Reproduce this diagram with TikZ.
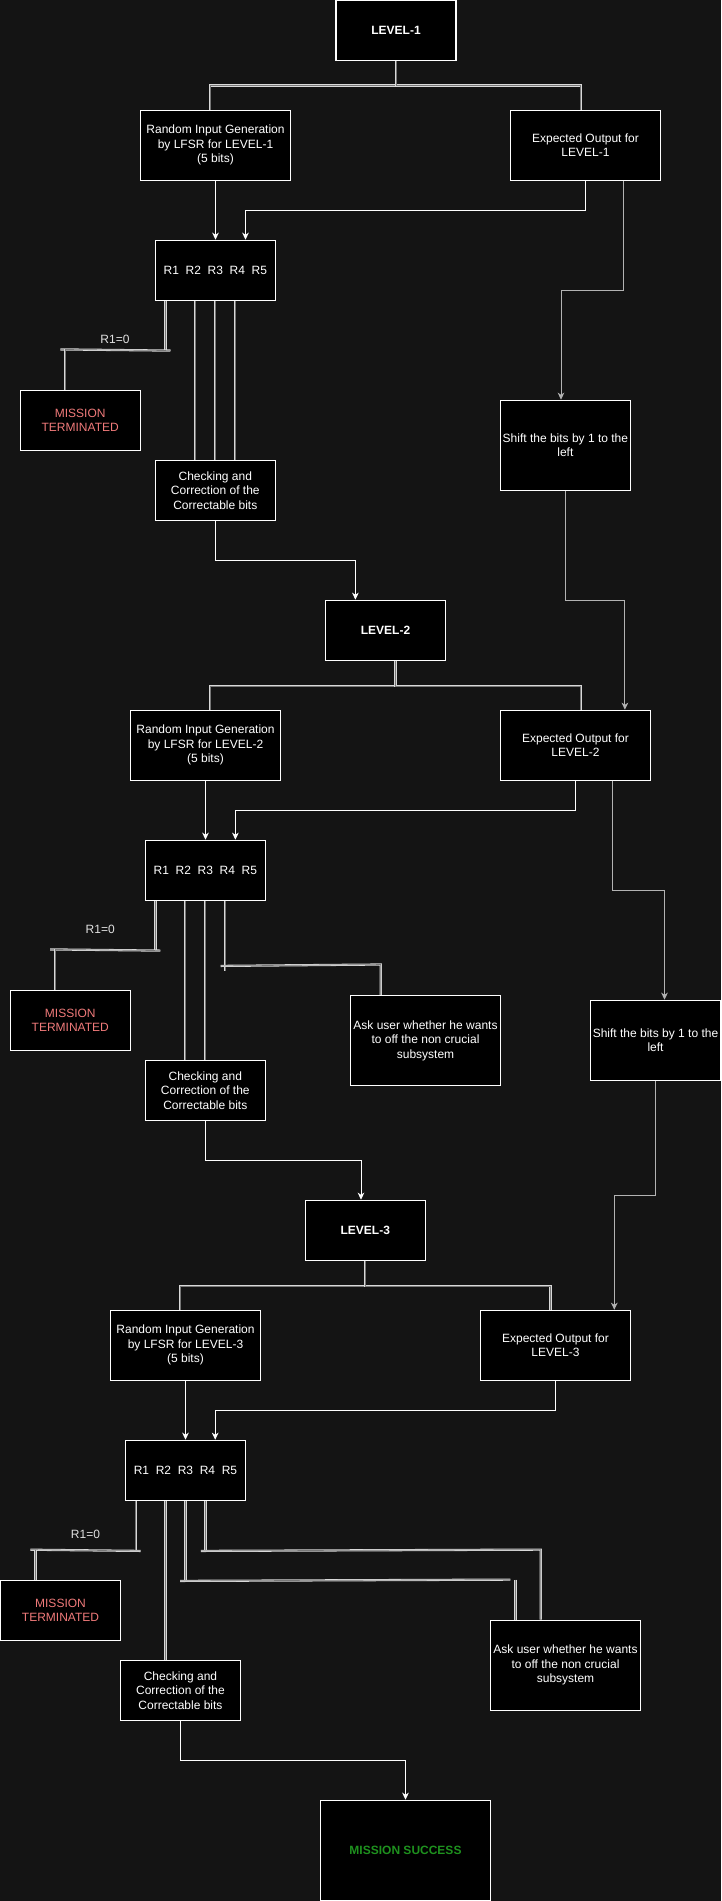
\documentclass[tikz,border=0pt]{standalone}
\usepackage{fontspec}
\setmainfont{Liberation Sans}
\usetikzlibrary{arrows.meta,calc}
\definecolor{bg}{HTML}{141414}
\definecolor{termred}{HTML}{F07A7A}
\definecolor{okgreen}{HTML}{1E911E}
\definecolor{linkout}{HTML}{D9D9D9}
\definecolor{linkin}{HTML}{777777}
\definecolor{feed}{HTML}{B3B3B3}
\newcommand\boxfont{\fontsize{9}{10.9}\selectfont}
\begin{document}
\begin{tikzpicture}[x=0.75pt,y=-0.75pt,
  every node/.style={font=\boxfont},
  box/.style={draw=white, fill=black, line width=0.9pt, text=white, align=center, inner sep=1pt},
  wh/.style 2 args={minimum width=#1, minimum height=#2},
  regbox/.style={box, wh={90pt}{45pt}},
  genbox/.style={box, wh={112.5pt}{52.5pt}},
  askbox/.style={box, wh={112.5pt}{67.5pt}},
  levelbox/.style={regbox, font=\boxfont\bfseries},
  termbox/.style={regbox, text=termred},
  lbl/.style={text=white!88!black, inner sep=0pt},
  link/.style={draw=linkout, line width=0.6pt, double=linkin, double distance=0.45pt, line join=miter},
  arr/.style={draw=white, line width=0.75pt, -{Stealth[length=5.3pt,width=5pt,inset=1.6pt]}},
  garr/.style={draw=feed, line width=0.75pt, -{Stealth[length=5.3pt,width=5pt,inset=1.6pt]}}
]
% canvas
\fill[bg] (0,0) rectangle (721,1901);
\useasboundingbox (0,0) rectangle (721,1901);

% ---------- level 1 ----------
\node[levelbox] (L1) at (396,30.5) {LEVEL-1};
\node[genbox] (RI1) at (215.5,145.3) {Random Input Generation\\by LFSR for LEVEL-1\\(5 bits)};
\node[genbox] (E1) at (585.5,145.3) {Expected Output for\\LEVEL-1};
\node[regbox] (RB1) at (215.3,270.3) {R1\ \ R2\ \ R3\ \ R4\ \ R5};
\node[termbox] (MT1) at (80.2,420.3) {MISSION\\TERMINATED};
\node[regbox] (CH1) at (215.3,490.3) {Checking and\\Correction of the\\Correctable bits};
\node[box, wh={97.5pt}{67.5pt}] (SH1) at (565.4,445.3) {Shift the bits by 1 to the\\left};
\node[lbl] (C1) at (115,339.7) {R1=0};

% ---------- level 2 ----------
\node[levelbox] (L2) at (385.5,630.3) {LEVEL-2};
\node[genbox] (RI2) at (205.5,745.3) {Random Input Generation\\by LFSR for LEVEL-2\\(5 bits)};
\node[genbox] (E2) at (575.5,745.3) {Expected Output for\\LEVEL-2};
\node[regbox] (RB2) at (205.3,870.3) {R1\ \ R2\ \ R3\ \ R4\ \ R5};
\node[termbox] (MT2) at (70.3,1020.3) {MISSION\\TERMINATED};
\node[regbox] (CH2) at (205.3,1090.3) {Checking and\\Correction of the\\Correctable bits};
\node[askbox] (ASK2) at (425.5,1040.5) {Ask user whether he wants\\to off the non crucial\\subsystem};
\node[box, wh={97.5pt}{60pt}] (SH2) at (655.5,1040.3) {Shift the bits by 1 to the\\left};
\node[lbl] (C2) at (100.2,929.7) {R1=0};

% ---------- level 3 ----------
\node[levelbox] (L3) at (365.3,1230.3) {LEVEL-3};
\node[genbox] (RI3) at (185.5,1345.3) {Random Input Generation\\by LFSR for LEVEL-3\\(5 bits)};
\node[genbox] (E3) at (555.5,1345.3) {Expected Output for\\LEVEL-3};
\node[regbox] (RB3) at (185.5,1470.3) {R1\ \ R2\ \ R3\ \ R4\ \ R5};
\node[termbox] (MT3) at (60.5,1610.3) {MISSION\\TERMINATED};
\node[regbox] (CH3) at (180.5,1690.3) {Checking and\\Correction of the\\Correctable bits};
\node[askbox] (ASK3) at (565.5,1665.2) {Ask user whether he wants\\to off the non crucial\\subsystem};
\node[box, wh={127.5pt}{75pt}, text=okgreen, font=\boxfont\bfseries] (SUC) at (405.5,1850.3) {MISSION SUCCESS};
\node[lbl] (C3) at (85.5,1534.3) {R1=0};

% ---------- connectors, level 1 ----------
\draw[link] (L1.south) -- ++(0,24.5) -| ($(RI1.north)+(-5.5,0)$);
\draw[link] (L1.south) -- ++(0,24.5) -| ($(E1.north)+(-4.8,0)$);
\draw[arr] (RI1.south) -- (RI1.south |- RB1.north);
\draw[arr] (E1.south) -- ++(0,30) -| ($(RB1.north)+(30.2,0)$);
\draw[garr] ($(E1.south)+(37.5,0)$) -- ++(0,110) -| ($(SH1.north)+(-4.4,0)$);
\coordinate (t1a) at ($(RB1.south)+(-49.8,49.7)$);
\coordinate (t1b) at ($(MT1.north)+(-14.9,-40.3)$);
\draw[link] ($(RB1.south)+(-49.8,0)$) -- (t1a);
\draw[link] ($(t1a)+(5,0)$) -- ($(t1b)+(-5,0)$);
\draw[link] (t1b) -- ($(MT1.north)+(-14.9,0)$);
\foreach \d in {-20,0,20}
  \draw[link] ($(RB1.south)+(\d,0)$) -- ($(CH1.north)+(\d,0)$);
\draw[arr] (CH1.south) -- ++(0,40) -| ($(L2.north)+(-30.1,0)$);
\draw[garr] (SH1.south) -- ++(0,110) -| ($(E2.north)+(49.4,0)$);

% ---------- connectors, level 2 ----------
\draw[link] ($(L2.south)+(9.9,0)$) -- ++(0,25) -| ($(RI2.north)+(4.6,0)$);
\draw[link] ($(L2.south)+(9.9,0)$) -- ++(0,25) -| ($(E2.north)+(5.2,0)$);
\draw[arr] (RI2.south) -- (RI2.south |- RB2.north);
\draw[arr] (E2.south) -- ++(0,30) -| ($(RB2.north)+(30.1,0)$);
\draw[garr] ($(E2.south)+(37.4,0)$) -- ++(0,110) -| ($(SH2.north)+(9,0)$);
\coordinate (t2a) at ($(RB2.south)+(-49.9,49.7)$);
\coordinate (t2b) at ($(MT2.north)+(-15.1,-40.3)$);
\draw[link] ($(RB2.south)+(-49.9,0)$) -- (t2a);
\draw[link] ($(t2a)+(5,0)$) -- ($(t2b)+(-5,0)$);
\draw[link] (t2b) -- ($(MT2.north)+(-15.1,0)$);
\foreach \d in {-20,0}
  \draw[link] ($(RB2.south)+(\d,0)$) -- ($(CH2.north)+(\d,0)$);
\coordinate (a2) at ($(ASK2.north)+(-44.8,-30.4)$);
\draw[link] ($(RB2.south)+(20,0)$) -- ($(RB2.south)+(20,69.7)$);
\draw[link] ($(RB2.south)+(15.4,65)$) -- (a2) -- ($(ASK2.north)+(-44.8,0)$);
\draw[arr] (CH2.south) -- ++(0,40) -| ($(L3.north)+(-4.3,0)$);
\draw[garr] (SH2.south) -- ++(0,115) -| ($(E3.north)+(58.8,0)$);

% ---------- connectors, level 3 ----------
\draw[link] (L3.south) -- ++(0,25) -| ($(RI3.north)+(-5.3,0)$);
\draw[link] (L3.south) -- ++(0,25) -| ($(E3.north)+(-5.1,0)$);
\draw[arr] (RI3.south) -- (RI3.south |- RB3.north);
\draw[arr] (E3.south) -- ++(0,30) -| ($(RB3.north)+(29.7,0)$);
\coordinate (t3a) at ($(RB3.south)+(-49.9,50)$);
\coordinate (t3b) at ($(MT3.north)+(-25.1,-30)$);
\draw[link] ($(RB3.south)+(-49.9,0)$) -- (t3a);
\draw[link] ($(t3a)+(5,0)$) -- ($(t3b)+(-5,0)$);
\draw[link] (t3b) -- ($(MT3.north)+(-25.1,0)$);
\coordinate (r3c) at ($(RB3.south)+(-20,0)$);
\draw[link] (r3c) -- (r3c |- CH3.north);
\draw[link] (RB3.south) -- ($(RB3.south)+(0,80)$);
\draw[link] ($(RB3.south)+(-5.3,80)$) -- ($(ASK3.north)+(-55.1,-40)$);
\draw[link] ($(ASK3.north)+(-50,-40)$) -- ($(ASK3.north)+(-50,0)$);
\coordinate (a3) at ($(ASK3.north)+(-24.8,-70)$);
\draw[link] ($(RB3.south)+(20,0)$) -- ($(RB3.south)+(20,50)$);
\draw[link] ($(RB3.south)+(15.4,50)$) -- (a3) -- ($(ASK3.north)+(-24.8,0)$);
\draw[arr] (CH3.south) -- ++(0,40) -| (SUC.north);
\end{tikzpicture}
\end{document}
